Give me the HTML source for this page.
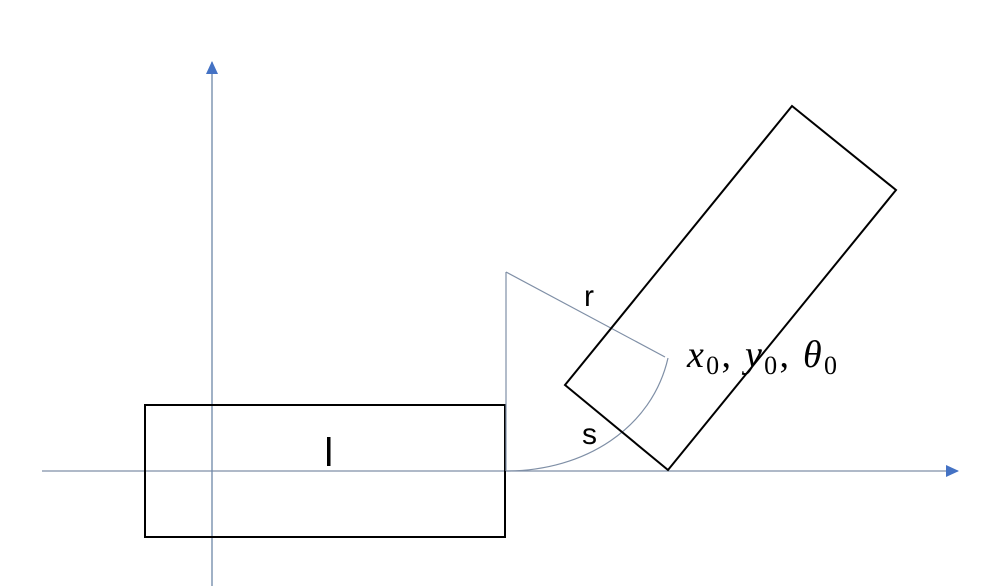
<!DOCTYPE html>
<html><head><meta charset="utf-8"><style>
html,body{margin:0;padding:0;background:#fff;}
svg{display:block;}
</style></head><body>
<svg width="998" height="586" viewBox="0 0 998 586" xmlns="http://www.w3.org/2000/svg">
<defs>
<marker id="ah" markerWidth="13" markerHeight="12" refX="12" refY="6" orient="auto" markerUnits="userSpaceOnUse">
<path d="M0,0 L13,6 L0,12 z" fill="#4472c4"/>
</marker>
</defs>
<line x1="42" y1="471" x2="958" y2="471" stroke="#7f8fa6" stroke-width="1.3" marker-end="url(#ah)"/>
<line x1="212" y1="586" x2="212" y2="62" stroke="#6d87a8" stroke-width="1.3" marker-end="url(#ah)"/>
<rect x="145" y="405" width="360" height="132" fill="none" stroke="#000" stroke-width="2"/>
<line x1="506" y1="272" x2="506" y2="471" stroke="#7f8fa6" stroke-width="1.2"/>
<line x1="506" y1="272" x2="665" y2="357" stroke="#7f8fa6" stroke-width="1.2"/>
<path d="M506,471 C585,471 652,428 668,358" fill="none" stroke="#7f8fa6" stroke-width="1.2"/>
<polygon points="668,470 565,385 792,106 896,190" fill="none" stroke="#000" stroke-width="2"/>
<text x="584" y="306" font-family="Liberation Sans, sans-serif" font-size="30" fill="#000">r</text>
<text x="582" y="444" font-family="Liberation Sans, sans-serif" font-size="30" fill="#000">s</text>
<rect x="327" y="437" width="3.5" height="29" fill="#000"/>
<text x="687" y="367" font-family="Liberation Serif, serif" font-size="38" fill="#000" textLength="150" lengthAdjust="spacing"><tspan font-style="italic">x</tspan><tspan font-size="26" dy="7">0</tspan><tspan dy="-7">, </tspan><tspan font-style="italic">y</tspan><tspan font-size="26" dy="7">0</tspan><tspan dy="-7">, </tspan><tspan font-style="italic">θ</tspan><tspan font-size="26" dy="7">0</tspan></text>
</svg>
</body></html>
